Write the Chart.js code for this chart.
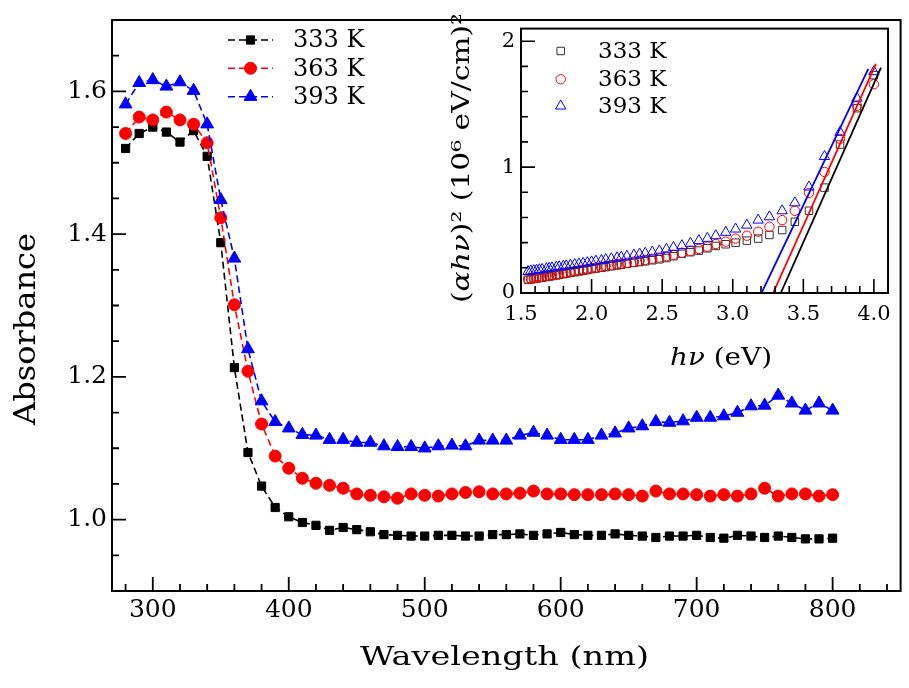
<!DOCTYPE html>
<html><head><meta charset="utf-8">
<script src="https://cdn.jsdelivr.net/npm/chart.js@4.4.1/dist/chart.umd.min.js"></script>
<style>
html,body{margin:0;padding:0;background:#fff;}
#wrap{position:relative;width:909px;height:688px;overflow:hidden;background:#fff;}
#main{position:absolute;left:0;top:0;width:909px;height:688px;}
#inset{position:absolute;left:430px;top:10px;width:470px;height:370px;}
</style></head><body>
<div id="wrap"><canvas id="main" width="909" height="688"></canvas><canvas id="inset" width="470" height="370"></canvas></div>
<script>
// ---------- main chart data ----------
const wavelengths = [280,290,300,310,320,330,340,350,360,370,380,390,400,410,420,430,440,450,460,470,480,490,500,510,520,530,540,550,560,570,580,590,600,610,620,630,640,650,660,670,680,690,700,710,720,730,740,750,760,770,780,790,800];
const abs333 = [1.520,1.541,1.550,1.543,1.529,1.545,1.509,1.388,1.213,1.094,1.047,1.017,1.004,0.996,0.992,0.985,0.989,0.986,0.983,0.979,0.978,0.977,0.977,0.978,0.978,0.977,0.977,0.979,0.979,0.980,0.978,0.980,0.982,0.979,0.978,0.978,0.980,0.978,0.977,0.975,0.977,0.977,0.978,0.975,0.974,0.978,0.977,0.975,0.977,0.975,0.973,0.973,0.974];
const abs363 = [1.541,1.564,1.560,1.571,1.560,1.554,1.528,1.423,1.301,1.208,1.134,1.089,1.072,1.058,1.051,1.048,1.044,1.036,1.034,1.032,1.030,1.036,1.034,1.033,1.036,1.038,1.039,1.036,1.036,1.037,1.040,1.036,1.036,1.035,1.035,1.035,1.036,1.035,1.033,1.040,1.036,1.036,1.035,1.033,1.035,1.033,1.036,1.044,1.033,1.036,1.036,1.033,1.035];
const abs393 = [1.582,1.612,1.616,1.607,1.613,1.601,1.554,1.448,1.366,1.239,1.166,1.137,1.128,1.119,1.118,1.112,1.112,1.108,1.108,1.103,1.102,1.102,1.100,1.103,1.104,1.103,1.111,1.111,1.111,1.118,1.122,1.118,1.112,1.112,1.112,1.118,1.121,1.128,1.131,1.137,1.136,1.138,1.143,1.143,1.145,1.150,1.159,1.160,1.174,1.163,1.153,1.163,1.153];
const seriesLabels = ['333 K','363 K','393 K'];
const xTickValues = [300,400,500,600,700,800];
const yTickValues = [1.0,1.2,1.4,1.6];
const yTickLabels = ['1.0','1.2','1.4','1.6'];

// ---------- inset data ----------
const photonEnergy = [1.55,1.57,1.59,1.61,1.63,1.65,1.68,1.70,1.72,1.75,1.77,1.80,1.82,1.85,1.88,1.91,1.94,1.97,2.00,2.03,2.07,2.10,2.14,2.18,2.21,2.25,2.30,2.34,2.38,2.43,2.48,2.53,2.58,2.64,2.70,2.76,2.82,2.88,2.95,3.02,3.10,3.18,3.26,3.35,3.44,3.54,3.65,3.76,3.88,4.00,4.13];
const tauc333 = [0.105,0.108,0.112,0.115,0.119,0.122,0.127,0.131,0.135,0.140,0.144,0.150,0.154,0.160,0.165,0.171,0.176,0.182,0.190,0.194,0.201,0.206,0.213,0.219,0.224,0.231,0.239,0.246,0.252,0.260,0.268,0.278,0.292,0.311,0.324,0.337,0.355,0.374,0.387,0.400,0.416,0.432,0.461,0.500,0.566,0.653,0.837,1.179,1.468,1.730,1.850];
const tauc363 = [0.111,0.115,0.118,0.122,0.126,0.130,0.135,0.139,0.143,0.148,0.152,0.158,0.162,0.168,0.174,0.180,0.186,0.191,0.197,0.202,0.209,0.214,0.221,0.228,0.233,0.240,0.248,0.256,0.263,0.272,0.282,0.292,0.304,0.320,0.334,0.350,0.368,0.389,0.408,0.432,0.455,0.487,0.526,0.579,0.653,0.795,0.961,1.224,1.487,1.658,1.776];
const tauc393 = [0.171,0.175,0.178,0.181,0.185,0.188,0.193,0.196,0.200,0.205,0.208,0.213,0.216,0.221,0.226,0.231,0.236,0.241,0.247,0.253,0.259,0.265,0.272,0.279,0.285,0.292,0.301,0.309,0.316,0.325,0.334,0.347,0.362,0.376,0.395,0.416,0.434,0.455,0.482,0.508,0.539,0.579,0.605,0.653,0.716,0.842,1.084,1.276,1.547,1.758,1.880];
const fit333X = [3.34, 4.05], fit333Y = [0, 1.79];
const fit363X = [3.286, 4.014], fit363Y = [0, 1.82];
const fit393X = [3.204, 3.96], fit393Y = [0, 1.78];
const insetXTicks = [1.5,2.0,2.5,3.0,3.5,4.0];
const insetXTickLabels = ['1.5','2.0','2.5','3.0','3.5','4.0'];
const insetYTicks = [0,1,2];
const insetYTickLabels = ['0','1','2'];

const SERIF = '"DejaVu Serif", "Liberation Serif", serif';
const COLORS = ['#000000','#ff0000','#0000ff'];
const STYLES = ['rect','circle','triangle'];

function pts(xs, ys){ return xs.map((x,i)=>({x:x, y:ys[i]})); }

function drawMarker(ctx, style, r, x, y, fill, stroke, lw){
  ctx.beginPath();
  if (style === 'rect'){ const s = Math.SQRT1_2*r; ctx.rect(x-s, y-s, 2*s, 2*s); }
  else if (style === 'circle'){ ctx.arc(x, y, r, 0, Math.PI*2); }
  else { let a = 0; ctx.moveTo(x+Math.sin(a)*r, y-Math.cos(a)*r); a += 2*Math.PI/3; ctx.lineTo(x+Math.sin(a)*r, y-Math.cos(a)*r); a += 2*Math.PI/3; ctx.lineTo(x+Math.sin(a)*r, y-Math.cos(a)*r); ctx.closePath(); }
  if (fill){ ctx.fillStyle = fill; ctx.fill(); }
  if (stroke){ ctx.strokeStyle = stroke; ctx.lineWidth = lw; ctx.stroke(); }
}

function drawSegText(ctx, segs, size, x, y, len, rot){
  ctx.save();
  ctx.translate(x, y); ctx.rotate(rot);
  const fonts = segs.map(s => (s[1] ? 'italic ' : '') + size + 'px ' + SERIF);
  let w = 0;
  segs.forEach((s,i)=>{ ctx.font = fonts[i]; w += ctx.measureText(s[0]).width; });
  ctx.scale(len / w, 1);
  ctx.textBaseline = 'alphabetic'; ctx.textAlign = 'left'; ctx.fillStyle = '#000';
  let cx = -w/2;
  segs.forEach((s,i)=>{ ctx.font = fonts[i]; ctx.fillText(s[0], cx, 0); cx += ctx.measureText(s[0]).width; });
  ctx.restore();
}

// inward ticks + frame
const frameTicks = {
  id: 'frameTicks',
  afterDatasetsDraw(chart, args, o){
    const ctx = chart.ctx, a = chart.chartArea;
    const xs = chart.scales.x, ys = chart.scales.y;
    ctx.save();
    ctx.strokeStyle = '#000'; ctx.lineWidth = o.tickWidth; ctx.lineCap = 'butt';
    ctx.beginPath();
    xs.ticks.forEach(t=>{ const p = xs.getPixelForValue(t.value); ctx.moveTo(p, a.bottom); ctx.lineTo(p, a.bottom - o.major); });
    for (let i=0;;i++){ const v = o.xMinorStart + i*o.xMinorStep; if (v > xs.max + 1e-9) break; if (xs.ticks.some(t=>Math.abs(t.value-v) < o.xMinorStep/10)) continue; const p = xs.getPixelForValue(v); ctx.moveTo(p, a.bottom); ctx.lineTo(p, a.bottom - o.minor); }
    ys.ticks.forEach(t=>{ const p = ys.getPixelForValue(t.value); ctx.moveTo(a.left, p); ctx.lineTo(a.left + o.major, p); });
    for (let i=0;;i++){ const v = o.yMinorStart + i*o.yMinorStep; if (v > ys.max + 1e-9) break; if (ys.ticks.some(t=>Math.abs(t.value-v) < o.yMinorStep/10)) continue; if (v <= ys.min + 1e-9) continue; const p = ys.getPixelForValue(v); ctx.moveTo(a.left, p); ctx.lineTo(a.left + o.minor, p); }
    ctx.stroke();
    ctx.lineWidth = o.frameWidth;
    ctx.strokeRect(a.left, a.top, a.right - a.left, a.bottom - a.top);
    ctx.restore();
  }
};

const mainDecor = {
  id: 'mainDecor',
  afterDraw(chart){
    const ctx = chart.ctx;
    ctx.save();
    const rows = [40, 68.3, 96.7];
    chart.data.datasets.forEach((ds, i)=>{
      const y = rows[i];
      ctx.save();
      ctx.strokeStyle = ds.borderColor; ctx.lineWidth = ds.borderWidth; ctx.setLineDash(ds.borderDash);
      ctx.beginPath(); ctx.moveTo(228, y); ctx.lineTo(273, y); ctx.stroke();
      ctx.restore();
      drawMarker(ctx, ds.pointStyle, ds.pointRadius, 250.5, y, ds.pointBackgroundColor, ds.pointBorderColor, ds.pointBorderWidth);
      ctx.fillStyle = '#000'; ctx.font = '24px ' + SERIF; ctx.textBaseline = 'middle'; ctx.textAlign = 'left';
      ctx.fillText(ds.label, 293, y + 1);
    });
    drawSegText(ctx, [['Absorbance', false]], 29, 35, 329, 192, -Math.PI/2);
    drawSegText(ctx, [['Wavelength (nm)', false]], 26, 504.5, 665, 289, 0);
    ctx.restore();
  }
};

const insetDecor = {
  id: 'insetDecor',
  afterDraw(chart){
    const ctx = chart.ctx;
    ctx.save();
    const rows = [41, 69.3, 96];
    for (let i=0;i<3;i++){
      const ds = chart.data.datasets[i];
      drawMarker(ctx, ds.pointStyle, ds.pointRadius, 130.7, rows[i], null, ds.pointBorderColor, ds.pointBorderWidth);
      ctx.fillStyle = '#000'; ctx.font = '23px ' + SERIF; ctx.textBaseline = 'middle'; ctx.textAlign = 'left';
      ctx.fillText(ds.label, 168, rows[i] + 1);
    }
    drawSegText(ctx, [['(', false], ['\u03b1h\u03bd', true], [')\u00b2 (10\u2076 eV/cm)\u00b2', false]], 24, 39, 148, 290, -Math.PI/2);
    drawSegText(ctx, [['h\u03bd', true], [' (eV)', false]], 25, 291, 355, 102, 0);
    ctx.restore();
  }
};

// ---------- main chart ----------
const mainDatasets = [abs333, abs363, abs393].map((arr, i)=>({
  label: seriesLabels[i],
  data: pts(wavelengths, arr),
  borderColor: COLORS[i],
  backgroundColor: COLORS[i],
  borderWidth: 1.6,
  borderDash: [7, 4],
  pointStyle: STYLES[i],
  pointRadius: [5.8, 6.0, 7.4][i],
  pointBackgroundColor: COLORS[i],
  pointBorderColor: COLORS[i],
  pointBorderWidth: 1,
  tension: 0,
  order: 3 - i
}));

new Chart(document.getElementById('main'), {
  type: 'line',
  data: { datasets: mainDatasets },
  options: {
    responsive: false, animation: false, devicePixelRatio: 1,
    layout: { padding: { top: 10, right: 8, left: 0, bottom: 0 } },
    plugins: {
      legend: { display: false }, tooltip: { enabled: false },
      frameTicks: { tickWidth: 1.8, frameWidth: 2, major: 14, minor: 7, xMinorStart: 280, xMinorStep: 20, yMinorStart: 0.95, yMinorStep: 0.05 }
    },
    scales: {
      x: {
        type: 'linear', min: 270, max: 850,
        afterBuildTicks: s => { s.ticks = xTickValues.map(v=>({value: v})); },
        afterFit: s => { s.height = 97; },
        grid: { display: false, drawTicks: false }, border: { display: false },
        ticks: { font: { family: SERIF, size: 25 }, color: '#000', padding: 4, maxRotation: 0, autoSkip: false, callback: v => String(v) }
      },
      y: {
        type: 'linear', min: 0.9, max: 1.7,
        afterBuildTicks: s => { s.ticks = yTickValues.map(v=>({value: v})); },
        afterFit: s => { s.width = 112; },
        grid: { display: false, drawTicks: false }, border: { display: false },
        ticks: { font: { family: SERIF, size: 25 }, color: '#000', padding: 5, autoSkip: false, callback: v => yTickLabels[yTickValues.findIndex(t=>Math.abs(t-v)<1e-6)] }
      }
    }
  },
  plugins: [frameTicks, mainDecor]
});

// ---------- inset chart ----------
const taucSets = [tauc333, tauc363, tauc393].map((arr, i)=>({
  type: 'scatter',
  label: seriesLabels[i],
  data: pts(photonEnergy, arr),
  showLine: false,
  pointStyle: STYLES[i],
  pointRadius: [5.3, 4.7, 6.0][i],
  pointBackgroundColor: 'rgba(0,0,0,0)',
  pointBorderColor: ['#333333','#ff0000','#0000ff'][i],
  pointBorderWidth: 1,
  order: 3 - i
}));
const fitSets = [[fit333X, fit333Y],[fit363X, fit363Y],[fit393X, fit393Y]].map((f, i)=>({
  type: 'line',
  label: 'fit ' + seriesLabels[i],
  data: pts(f[0], f[1]),
  borderColor: COLORS[i],
  borderWidth: 1.8,
  pointRadius: 0,
  tension: 0,
  order: 0
}));

new Chart(document.getElementById('inset'), {
  type: 'scatter',
  data: { datasets: taucSets.concat(fitSets) },
  options: {
    responsive: false, animation: false, devicePixelRatio: 1,
    layout: { padding: { top: 16, right: 10, left: 0, bottom: 0 } },
    plugins: {
      legend: { display: false }, tooltip: { enabled: false },
      frameTicks: { tickWidth: 1.6, frameWidth: 2, major: 14, minor: 7, xMinorStart: 1.5, xMinorStep: 0.1, yMinorStart: 0, yMinorStep: 0.2 }
    },
    scales: {
      x: {
        type: 'linear', min: 1.5, max: 4.1,
        afterBuildTicks: s => { s.ticks = insetXTicks.map(v=>({value: v})); },
        afterFit: s => { s.height = 87; },
        grid: { display: false, drawTicks: false }, border: { display: false },
        ticks: { font: { family: SERIF, size: 21 }, color: '#000', padding: 9, maxRotation: 0, autoSkip: false, callback: v => insetXTickLabels[insetXTicks.findIndex(t=>Math.abs(t-v)<1e-6)] }
      },
      y: {
        type: 'linear', min: 0, max: 2.1,
        afterBuildTicks: s => { s.ticks = insetYTicks.map(v=>({value: v})); },
        afterFit: s => { s.width = 91; },
        grid: { display: false, drawTicks: false }, border: { display: false },
        ticks: { font: { family: SERIF, size: 21 }, color: '#000', padding: 6, autoSkip: false, callback: v => insetYTickLabels[insetYTicks.findIndex(t=>Math.abs(t-v)<1e-6)] }
      }
    }
  },
  plugins: [frameTicks, insetDecor]
});
</script>
</body></html>
